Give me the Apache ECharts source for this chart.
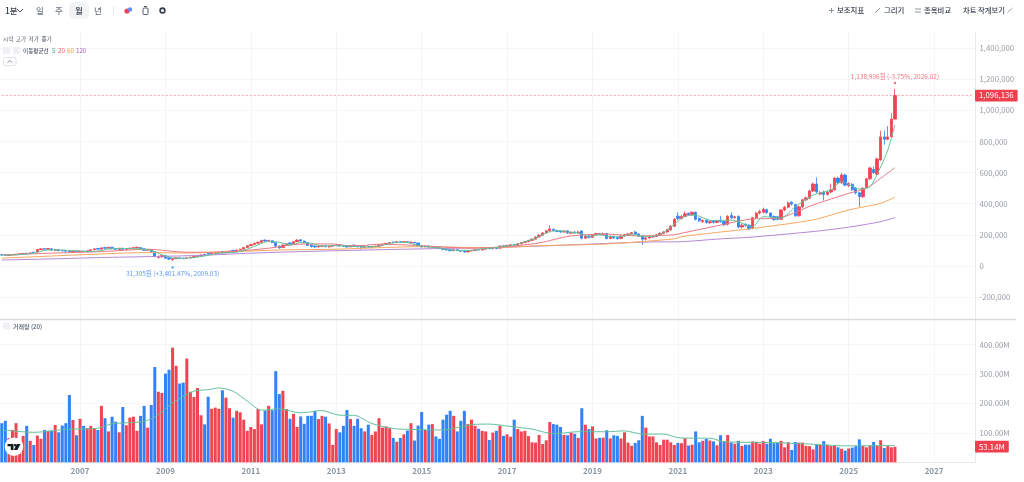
<!DOCTYPE html>
<html>
<head>
<meta charset="utf-8">
<script src="https://cdn.jsdelivr.net/npm/echarts@6/dist/echarts.min.js"></script>
<style>
html, body { margin: 0; padding: 0; background: #fff; }
#chart { width: 1024px; height: 482px; }
</style>
</head>
<body>
<div id="chart"></div>
<script>
// monthly candles, 2005.03 onward, thousand won: [open, close, low, high]
var candles = [
  [72,70,66,75],[70,68,65,72],[68,70,66,73],[70,72,68,75],[72,75,70,77],[75,78,73,81],[78,80,76,83],[82,79,77,84],[79,84,78,86],[88,85,83,90],
  [90,105,88,110],[105,110,102,114],[111,107,104,114],[107,112,105,116],[110,102,99,112],[100,104,96,107],[104,98,96,106],[99,97,94,102],[98,95,92,101],[96,92,90,99],[92,96,90,98],[96,93,90,98],
  [92,96,90,99],[96,92,90,98],[92,98,91,100],[98,104,96,106],[104,110,102,113],[112,108,105,116],[108,116,106,120],[118,114,110,122],[114,120,112,124],[120,112,108,122],[112,106,102,114],[106,114,104,116],
  [114,106,102,116],[106,112,104,115],[110,114,108,117],[114,118,112,120],[116,120,114,123],[118,110,106,120],[110,100,97,113],[100,106,96,108],[104,92,88,108],[92,62,55,94],[55,62,46,66],[58,66,54,70],
  [66,50,47,68],[52,44,38,55],[40,46,31.305,49],[46,52,44,55],[52,48,46,55],[50,47,44,53],[48,52,46,55],[52,56,50,58],[54,60,52,63],[60,64,57,67],[64,70,62,73],[74,70,67,76],
  [82,76,73,84],[76,80,74,83],[80,84,78,87],[84,88,82,91],[92,84,80,94],[84,90,82,93],[90,96,88,98],[100,94,91,102],[94,102,92,105],[102,108,100,111],[108,118,106,121],[118,130,116,133],
  [130,138,128,142],[138,146,135,150],[146,152,143,156],[152,164,150,168],[166,160,156,170],[158,164,155,168],[162,150,146,166],[150,128,118,152],[128,116,110,130],[118,134,115,137],[134,142,130,146],[148,142,138,152],
  [142,156,140,160],[156,166,153,172],[168,160,156,172],[160,150,146,163],[150,132,128,153],[134,124,118,137],[128,122,116,130],[122,126,118,129],[126,128,122,132],[130,124,120,133],[122,126,118,130],[126,132,124,135],
  [132,135,128,139],[136,128,124,140],[130,126,122,133],[128,122,118,131],[122,130,120,133],[134,128,122,138],[128,124,120,131],[126,120,105,128],[120,124,117,127],[126,121,118,128],[121,124,118,127],[124,127,122,130],
  [127,134,125,137],[134,140,132,143],[140,145,137,148],[145,150,142,154],[154,150,146,157],[150,156,148,159],[156,152,148,159],[152,156,149,160],[156,152,148,160],[150,153,146,157],[152,148,144,155],[148,128,122,150],
  [130,122,118,133],[122,128,120,131],[128,122,118,130],[120,124,116,127],[124,118,114,127],[118,112,108,121],[112,106,102,115],[108,102,98,111],[104,98,94,107],[98,104,96,107],[104,98,95,107],[98,94,91,100],
  [96,90,84,98],[90,96,88,99],[96,100,94,103],[100,104,98,107],[106,102,99,109],[102,108,100,111],[108,112,106,115],[114,110,107,117],[110,114,108,117],[116,112,108,119],[114,128,112,131],[130,124,120,133],
  [124,132,122,136],[132,136,130,140],[138,134,130,141],[134,142,132,146],[142,150,140,154],[150,156,147,160],[156,164,152,168],[164,172,160,176],[172,186,170,190],[186,198,184,204],[198,212,194,218],[212,226,208,232],
  [226,238,220,262],[236,228,222,240],[228,222,216,232],[224,218,212,228],[218,224,214,232],[226,212,206,230],[210,216,204,222],[218,212,206,224],[212,218,208,226],[225,178,170,228],[178,190,174,196],[192,184,176,198],
  [184,200,182,204],[200,208,196,214],[208,202,198,212],[202,206,198,214],[208,176,170,212],[176,190,172,196],[190,180,174,194],[182,176,168,186],[176,192,172,196],[192,200,188,206],[200,206,196,212],[206,214,202,218],
  [218,205,200,226],[205,192,186,212],[190,172,135,200],[172,180,164,186],[180,186,174,190],[186,190,180,196],[190,200,186,206],[200,210,194,216],[210,218,204,224],[218,232,212,238],[232,255,226,262],[255,300,250,308],
  [320,305,296,345],[305,318,298,328],[318,335,312,350],[338,330,322,344],[330,345,324,352],[345,300,292,350],[305,290,282,312],[285,292,276,300],[295,280,272,300],[278,285,270,292],[290,280,272,296],[280,290,274,296],
  [295,285,278,322],[285,265,256,290],[268,320,260,326],[325,310,302,345],[310,316,304,322],[318,250,244,326],[250,262,240,270],[268,262,252,274],[262,238,230,268],[240,310,236,316],[310,340,302,346],[340,350,332,360],
  [345,365,338,375],[362,342,336,368],[340,318,310,345],[318,298,290,324],[316,300,292,322],[300,360,296,366],[360,378,352,386],[378,405,372,414],[410,398,388,416],[395,322,316,400],[322,380,318,388],[380,425,372,432],
  [425,438,416,446],[436,482,430,490],[482,527,474,536],[527,476,468,570],[462,470,454,482],[475,460,420,484],[460,475,452,484],[475,490,468,530],[490,565,482,572],[565,535,526,575],[535,585,528,600],[585,520,512,592],
  [518,530,506,538],[525,490,482,532],[500,470,460,506],[470,445,381,476],[445,500,438,506],[505,560,498,566],[560,630,552,638],[620,600,592,640],[590,688,584,696],[682,830,676,870],[830,815,780,870],[815,830,808,900],
  [830,945,825,983],[945,1096.136,940,1138.906]
];

// volume in millions of shares, same months
var volumes = [
  133,141,82,110,133,36,90,124,73,59,
  91,80,110,107,107,127,102,125,133,229,144,92,
  148,124,116,124,116,110,192,150,105,155,138,102,
  188,126,152,155,107,158,192,118,195,324,240,236,
  302,315,390,328,268,271,353,240,222,253,160,129,
  223,182,186,182,245,220,184,152,175,170,145,107,
  120,113,181,129,176,192,177,310,232,243,181,148,
  165,120,156,131,158,158,175,147,158,155,132,59,
  113,102,124,178,147,124,148,116,105,128,93,105,
  150,118,122,116,83,70,83,95,108,133,74,125,
  171,110,128,130,88,80,145,162,175,158,105,141,
  175,130,145,124,114,107,105,76,101,107,124,90,
  95,87,145,113,105,107,89,68,67,93,62,75,
  137,130,128,120,93,92,101,97,83,184,128,113,
  122,81,83,84,109,81,92,90,81,102,67,56,
  66,75,158,118,88,88,68,59,77,77,68,59,
  66,65,82,57,60,105,68,73,80,74,71,58,
  92,71,93,67,63,73,56,60,60,71,70,63,
  72,63,80,65,67,73,51,68,42,69,67,67,
  56,55,44,59,59,72,60,55,56,51,46,40,
  47,50,55,78,56,51,57,69,57,75,49,55,
  51,53.14
];
// r = up month, b = down month
var volumeDirs =
  'bbrrrrrbrb' + 'rrbrbrbbbbrb' + 'rbrrrbrbrbbr' + 'brrrrbbrbbrr' + 'bbrrbbrrrrrb' +
  'brrrbrrbrrrr' + 'rrrrbrbbbrrb' + 'rrbbbbbrrbrr' + 'rbbbrbbbrbrr' + 'rrrrbrbrbrbb' +
  'brbrbbbbbrbb' + 'brrrbrrbrbrb' + 'rrbrrrrrrrrr' + 'rbbbrbrbrbrb' + 'rrbrbrbbrrrr' +
  'bbbrrrrrrrrr' + 'brrbrbbrbrbr' + 'bbrbrbrbbrrr' + 'rbbbbrrrbbrr' + 'rrrbrbrrrbrb' +
  'rbbbrrrbrrbr' + 'rr';

// moving averages: [month index, thousand won]
var ma5Points = [[0,70],[3,70],[6,74],[9,82],[12,100],[15,104],[18,101],[21,97],[24,92],[27,96],[30,108],[33,112],[36,112],[39,108],[42,100],[45,72],[48,52],[51,48],[54,54],[57,64],[60,78],[63,85],[66,88],[69,108],[72,135],[75,158],[78,152],[81,135],[84,150],[87,145],[90,128],[93,130],[96,130],[99,125],[102,122],[105,125],[108,138],[111,152],[114,150],[117,132],[120,122],[123,115],[126,103],[129,100],[132,100],[135,110],[138,115],[141,125],[144,135],[147,155],[150,178],[153,212],[156,228],[159,218],[162,212],[165,190],[168,200],[171,188],[174,188],[177,205],[180,190],[183,190],[186,215],[189,270],[192,320],[195,326],[197,310],[200,290],[205,295],[211,253],[214,317],[219,308],[223,381],[228,456],[233,489],[236,542],[241,495],[244,510],[247,638],[249,746],[251,907]];
var ma20Points = [[0,71],[14,82],[28,92],[41,107],[52,88],[63,90],[75,114],[84,140],[93,141],[97,131],[101,131],[106,140],[117,131],[132,114],[142,124],[151,148],[160,193],[170,204],[179,193],[189,200],[191,210],[200,253],[210,300],[219,311],[228,392],[238,467],[243,500],[247,564],[251,632]];
var ma60Points = [[0,50],[28,77],[41,86],[52,83],[65,92],[79,103],[93,107],[107,118],[118,124],[133,118],[142,120],[151,130],[170,141],[189,174],[191,188],[202,218],[210,238],[228,296],[238,360],[247,403],[251,442]];
var ma120Points = [[0,38],[14,45],[28,54],[42,60],[56,68],[70,82],[84,92],[98,100],[112,107],[126,113],[140,120],[154,130],[168,143],[182,154],[191,156],[202,174],[210,184],[228,221],[238,249],[247,285],[251,311]];
var volMaPoints = [[0,110],[9,102],[18,112],[27,116],[31,131],[40,139],[44,162],[48,202],[54,242],[58,247],[61,253],[65,242],[69,208],[73,177],[78,182],[84,168],[90,176],[95,160],[99,160],[104,132],[110,115],[118,111],[124,110],[132,128],[137,130],[143,122],[149,113],[155,97],[162,104],[170,104],[175,107],[180,96],[186,96],[190,84],[194,82],[199,82],[203,70],[217,67],[227,62],[237,56],[251,57]];

var priceTicks = { min: -200000, max: 1400000, step: 200000 };
var volumeTicks = { min: 0, max: 400, step: 100 };
var lastPrice = 1096136, lastVolume = 53.14;
var highNote = '1,138,906원 (-3.75%, 2026.02)';
var lowNote = '31,305원 (+3,401.47%, 2009.03)';

var RED = '#f04452', BLUE = '#3182f6';
var FONT = '"Noto Sans CJK KR", "Noto Sans", sans-serif';

// month labels run past the data up to the right edge
var months = [];
for (var y = 2005, m = 3; months.length < 274; m++) {
    if (m > 12) { m = 1; y++; }
    months.push(y + '.' + (m < 10 ? '0' + m : m));
}
function isYearTick(index) {
    var p = months[index].split('.');
    return p[1] === '01' && Number(p[0]) % 2 === 1;
}
function toWon(row) {
    return row.map(function (v) { return v * 1000; });
}
function maWon(points) {
    return points.map(function (p) { return [p[0], p[1] * 1000]; });
}
function label(text, x, y, size, color, weight, align) {
    return {
        type: 'text', x: x, y: y, z: 20, silent: true,
        style: { text: text, fontFamily: FONT, fontSize: size, fill: color, fontWeight: weight || 400, align: align || 'left', verticalAlign: 'middle' }
    };
}
function box(x, y, w, h, fill, r, stroke) {
    return { type: 'rect', z: 19, silent: true, shape: { x: x, y: y, width: w, height: h, r: r || 0 }, style: { fill: fill, stroke: stroke || null, lineWidth: 1 } };
}
function seg(x1, y1, x2, y2, color, w) {
    return { type: 'line', z: 20, silent: true, shape: { x1: x1, y1: y1, x2: x2, y2: y2 }, style: { stroke: color, lineWidth: w || 1 } };
}
function maLine(name, points, color, grid) {
    return {
        name: name, type: 'line', xAxisIndex: grid, yAxisIndex: grid, data: points,
        showSymbol: false, smooth: 0.25, z: 5, lineStyle: { color: color, width: 1 }, silent: true
    };
}

var toolbarText = '#333d4b', faint = '#6b7684';
var overlay = [
    // toolbar
    label('1분', 5, 10.5, 8.5, toolbarText, 500),
    { type: 'polyline', z: 20, silent: true, shape: { points: [[17, 9], [20, 12], [23, 9]] }, style: { stroke: toolbarText, fill: null, lineWidth: 0.9 } },
    box(69, 2, 20, 17, '#f2f4f6', 5),
    label('일', 40, 10.5, 8.5, faint, 500, 'center'),
    label('주', 59, 10.5, 8.5, faint, 500, 'center'),
    label('월', 79, 10.5, 8.5, toolbarText, 500, 'center'),
    label('년', 98, 10.5, 8.5, faint, 500, 'center'),
    seg(113.5, 6, 113.5, 15, '#e5e8eb'),
    { type: 'circle', z: 20, silent: true, shape: { cx: 127, cy: 11, r: 2.6 }, style: { fill: '#f04452' } },
    { type: 'circle', z: 20, silent: true, shape: { cx: 130, cy: 9.5, r: 2.2 }, style: { fill: '#6a8df0' } },
    box(143, 8, 5, 6.5, '#fff', 1, '#555d68'),
    seg(144, 6.5, 147, 6.5, '#555d68'),
    { type: 'circle', z: 20, silent: true, shape: { cx: 162.5, cy: 10.5, r: 2.4 }, style: { fill: '#fff', stroke: '#333d4b', lineWidth: 1.6 } },
    seg(829, 10.5, 834, 10.5, '#8b95a1'), seg(831.5, 8, 831.5, 13, '#8b95a1'),
    label('보조지표', 837, 10.5, 7.4, toolbarText, 500),
    seg(875, 13, 880, 8, '#8b95a1'),
    label('그리기', 884, 10.5, 7.4, toolbarText, 500),
    seg(915, 9, 921, 9, '#8b95a1'), seg(915, 12, 921, 12, '#8b95a1'),
    label('종목비교', 924, 10.5, 7.4, toolbarText, 500),
    label('차트 작게보기', 963, 10.5, 7.3, toolbarText, 500),
    seg(1007.5, 12.5, 1012.5, 8, '#a2a8b0'),
    // legend
    label('시작  고가  저가  종가', 3, 39, 5.6, '#4e5968'),
    box(3, 47, 7, 7, '#eef0f3', 1), box(13, 47, 7, 7, '#eef0f3', 1),
    label('이동평균선', 23, 50.5, 5.6, '#4e5968', 500),
    label('5', 52, 50.5, 6.2, '#3fb27f'),
    label('20', 58, 50.5, 6.2, '#f1505f'),
    label('60', 67, 50.5, 6.2, '#f59a3c'),
    label('120', 76, 50.5, 6.2, '#a85fc8'),
    box(3.5, 57.5, 12.5, 8, '#fff', 2, '#dfe2e6'),
    { type: 'polyline', z: 20, silent: true, shape: { points: [[7.5, 62.5], [9.7, 60.5], [12, 62.5]] }, style: { stroke: '#6b7684', fill: null, lineWidth: 0.8 } },
    box(3, 322.5, 7, 7, '#eef0f3', 1),
    label('거래량 (20)', 13, 326.5, 6, '#4e5968', 500),
    // pane divider
    seg(0, 319.5, 1016, 319.5, '#d9dce0', 1.4),
    // logo
    { type: 'circle', z: 21, silent: true, shape: { cx: 14, cy: 446.7, r: 9.3 }, style: { fill: '#fff' } },
    { type: 'polygon', z: 22, silent: true, shape: { points: [[7.5, 444], [13.5, 444], [13.5, 450], [10.8, 450], [10.8, 446.3], [7.5, 446.3]] }, style: { fill: '#131722' } },
    { type: 'polygon', z: 22, silent: true, shape: { points: [[16.8, 444], [20.5, 444], [17.3, 450], [13.8, 450]] }, style: { fill: '#131722' } },
    { type: 'circle', z: 22, silent: true, shape: { cx: 15.2, cy: 445.2, r: 1.2 }, style: { fill: '#131722' } }
];

var chart = echarts.init(document.getElementById('chart'), null, { renderer: 'canvas' });
var gridPos = { left: -1.7, width: 976.7 };
function hiddenX(grid) {
    return { type: 'category', data: months, gridIndex: grid, boundaryGap: true, axisLine: { show: false }, axisTick: { show: false }, axisLabel: { show: false }, splitLine: { show: false } };
}
var axisLabelStyle = { color: '#979da6', fontSize: 7.8, fontFamily: FONT, margin: 4.5 };
var tagLabel = { position: 'end', distance: 0, color: '#fff', backgroundColor: '#f0404f', fontSize: 7.8, fontFamily: FONT, padding: [2, 4], borderRadius: 1 };
var hiddenLine = { color: 'rgba(0,0,0,0)', width: 0 };

chart.setOption({
    animation: false,
    backgroundColor: '#fff',
    graphic: overlay,
    tooltip: { show: false },
    grid: [
        { left: gridPos.left, width: gridPos.width, top: 48.3, height: 248.7 },
        { left: gridPos.left, width: gridPos.width, top: 344.7, height: 117.6 },
        { left: gridPos.left, width: gridPos.width, top: 32, height: 430.3 }
    ],
    xAxis: [
        hiddenX(0),
        hiddenX(1),
        {
            type: 'category', data: months, gridIndex: 2, boundaryGap: true,
            axisLine: { show: true, lineStyle: { color: '#e8eaed' } }, axisTick: { show: false },
            axisLabel: {
                interval: function (i) { return isYearTick(i); },
                formatter: function (v) { return v.split('.')[0]; },
                color: '#8b95a1', fontSize: 8, fontWeight: 600, fontFamily: FONT, margin: 5
            },
            splitLine: { show: true, alignWithLabel: true, interval: function (i) { return isYearTick(i); }, lineStyle: { color: '#f4f5f7', width: 1 } }
        }
    ],
    yAxis: [
        {
            gridIndex: 0, type: 'value', position: 'right', min: priceTicks.min, max: priceTicks.max, interval: priceTicks.step,
            axisLine: { show: false }, axisTick: { show: false },
            axisLabel: Object.assign({ formatter: function (v) { return echarts.format.addCommas(v); } }, axisLabelStyle),
            splitLine: { lineStyle: { color: '#f4f5f7' } }
        },
        {
            gridIndex: 1, type: 'value', position: 'right', min: volumeTicks.min, max: volumeTicks.max, interval: volumeTicks.step,
            axisLine: { show: false }, axisTick: { show: false },
            axisLabel: Object.assign({ formatter: function (v) { return v === 0 ? '' : v.toFixed(2) + 'M'; } }, axisLabelStyle),
            splitLine: { lineStyle: { color: '#f4f5f7' } }
        },
        {
            gridIndex: 2, type: 'value', position: 'right', min: 0, max: 1,
            axisLine: { show: true, lineStyle: { color: '#e8eaed' } }, axisTick: { show: false }, axisLabel: { show: false }, splitLine: { show: false }
        }
    ],
    series: [
        {
            // dashed last-price level, drawn as a flat line across the months
            name: 'last', type: 'line', xAxisIndex: 0, yAxisIndex: 0, silent: true, showSymbol: false, z: 2,
            data: [[0, lastPrice], [months.length - 1, lastPrice]],
            lineStyle: { color: '#f8a5ad', type: [2, 2], width: 1 },
            markLine: {
                silent: true, symbol: 'none', animation: false,
                data: [{ yAxis: lastPrice }],
                lineStyle: hiddenLine,
                label: Object.assign({ formatter: echarts.format.addCommas(lastPrice) }, tagLabel)
            }
        },
        {
            type: 'candlestick', xAxisIndex: 0, yAxisIndex: 0, barWidth: 2.8, z: 4, silent: true,
            data: candles.map(toWon),
            itemStyle: { color: RED, color0: BLUE, borderColor: RED, borderColor0: BLUE, borderWidth: 0.8 },
            markPoint: {
                silent: true, animation: false,
                data: [
                    {
                        coord: [months[251], 1138906], symbol: 'circle', symbolSize: 2.5, symbolOffset: [0, -6],
                        itemStyle: { color: '#f4727e' },
                        label: { show: true, position: 'top', distance: 2, formatter: highNote, color: '#f4727e', fontSize: 6.5, fontFamily: FONT }
                    },
                    {
                        coord: [months[48], 31305], symbol: 'circle', symbolSize: 2.5, symbolOffset: [0, 6.5],
                        itemStyle: { color: '#6ba4f5' },
                        label: { show: true, position: 'bottom', distance: 1.5, formatter: lowNote, color: '#5d9bf4', fontSize: 6.5, fontFamily: FONT }
                    }
                ]
            }
        },
        maLine('ma120', maWon(ma120Points), '#b587d3', 0),
        maLine('ma60', maWon(ma60Points), '#f5a860', 0),
        maLine('ma20', maWon(ma20Points), '#ea7784', 0),
        maLine('ma5', maWon(ma5Points), '#62c197', 0),
        {
            type: 'bar', xAxisIndex: 1, yAxisIndex: 1, barWidth: 3, z: 3, silent: true,
            data: volumes.map(function (v, i) {
                return { value: v, itemStyle: { color: volumeDirs.charAt(i) === 'r' ? RED : BLUE } };
            }),
            markLine: {
                silent: true, symbol: 'none', animation: false,
                data: [{ yAxis: lastVolume }],
                lineStyle: hiddenLine,
                label: Object.assign({ formatter: lastVolume + 'M' }, tagLabel)
            }
        },
        maLine('volMa', volMaPoints, '#62c197', 1)
    ]
});
</script>
</body>
</html>
